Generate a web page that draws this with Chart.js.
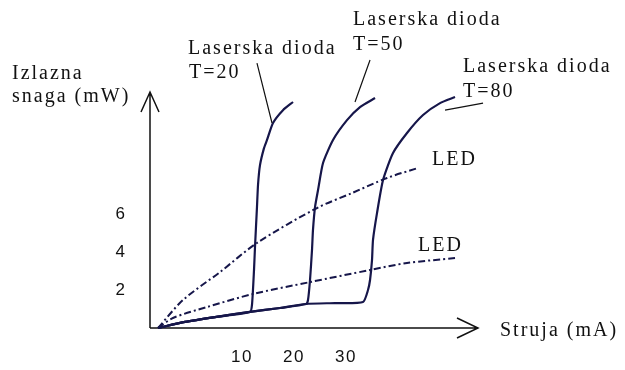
<!DOCTYPE html>
<html lang="hr">
<head>
    <meta charset="UTF-8">
    <title>Laserska dioda i LED</title>
    <script src="https://cdn.jsdelivr.net/npm/chart.js"></script>
    <style>
        body { margin: 0; background: #fff; }
        canvas { display: block; }
    </style>
</head>
<body>
<canvas id="myChart" width="625" height="370"></canvas>

<script>
    // struja (mA) i izlazna snaga (mW) za svaku krivulju
    const ld20Current = [-6.15, -0.96, 4.81, 11.54, 11.92, 12.31, 12.5, 12.88, 13.08, 13.46, 14.23, 14.81, 15.96, 17.88, 19.81];
    const ld20Power   = [0, 0.32, 0.58, 0.85, 1.22, 3.07, 4.29, 6.40, 7.57, 8.62, 9.52, 9.95, 10.85, 11.53, 11.96];

    const ld50Current = [-6.15, -0.96, 4.81, 11.54, 17.31, 22.31, 22.69, 23.08, 23.46, 23.65, 24.04, 24.62, 25.58, 27.5, 30.19, 32.69, 35.58];
    const ld50Power   = [0, 0.32, 0.58, 0.85, 1.06, 1.27, 1.48, 2.54, 4.13, 5.19, 6.40, 7.30, 8.73, 9.95, 11.0, 11.69, 12.17];

    const ld80Current = [-6.15, -0.96, 4.81, 11.54, 17.31, 22.31, 27.88, 33.27, 34.23, 34.62, 35.0, 35.19, 35.96, 37.12, 39.04, 41.73, 44.81, 48.08, 50.96];
    const ld80Power   = [0, 0.32, 0.58, 0.85, 1.06, 1.27, 1.32, 1.38, 2.01, 2.54, 3.60, 4.66, 6.08, 7.83, 9.26, 10.32, 11.27, 11.9, 12.22];

    const led1Current = [-6.15, -1.35, 5.77, 12.88, 24.42, 31.15, 37.88, 43.85];
    const led1Power   = [0, 1.48, 2.96, 4.50, 6.35, 7.14, 7.94, 8.47];

    const led2Current = [-6.15, -3.27, 3.27, 12.12, 23.08, 34.62, 41.73, 50.96];
    const led2Power   = [0, 0.53, 1.11, 1.80, 2.43, 3.07, 3.44, 3.70];

    const xTicks = [10, 20, 30];
    const yTicks = [2, 4, 6];

    const toPoints = (xs, ys) => xs.map((x, i) => ({x: x, y: ys[i]}));

    const ink = '#16164a';
    const serif = '20px "Liberation Serif", "Times New Roman", serif';
    const sans = '17px "Liberation Sans", Arial, sans-serif';

    // natpisi: [tekst, lijevi rub, sredina po visini]
    const labels = [
        ['Izlazna', 12, 74],
        ['snaga (mW)', 12, 97],
        ['Laserska dioda', 188, 49],
        ['T=20', 189, 73],
        ['Laserska dioda', 353, 20],
        ['T=50', 353, 45],
        ['Laserska dioda', 463, 67],
        ['T=80', 463, 92],
        ['LED', 432, 160],
        ['LED', 418, 246],
        ['Struja (mA)', 500, 331]
    ];

    // linije od natpisa do krivulja (u jedinicama osi)
    const leaders = [
        [12.88, 14.02, 15.77, 10.85],
        [34.62, 14.18, 31.73, 11.96],
        [56.35, 11.9, 49.04, 11.53]
    ];

    const sketchAxes = {
        id: 'sketchAxes',
        beforeDatasetsDraw(chart) {
            const {ctx, chartArea: a} = chart;
            ctx.save();
            ctx.strokeStyle = '#111';
            ctx.lineWidth = 1.5;
            ctx.beginPath();
            // os y sa strelicom
            ctx.moveTo(a.left, a.bottom);
            ctx.lineTo(a.left, a.top);
            ctx.moveTo(a.left - 9, a.top + 20);
            ctx.lineTo(a.left, a.top);
            ctx.lineTo(a.left + 9, a.top + 20);
            // os x sa strelicom
            ctx.moveTo(a.left, a.bottom);
            ctx.lineTo(a.right, a.bottom);
            ctx.moveTo(a.right - 21, a.bottom - 10);
            ctx.lineTo(a.right, a.bottom);
            ctx.lineTo(a.right - 21, a.bottom + 10);
            ctx.stroke();
            ctx.restore();
        },
        afterDraw(chart) {
            const {ctx, chartArea: a} = chart;
            const xs = chart.scales.x, ys = chart.scales.y;
            ctx.save();
            ctx.fillStyle = '#111';
            ctx.textBaseline = 'middle';

            ctx.font = sans;
            ctx.letterSpacing = '1.5px';
            ctx.textAlign = 'center';
            xTicks.forEach(v => ctx.fillText(String(v), xs.getPixelForValue(v), a.bottom + 29));
            yTicks.forEach(v => ctx.fillText(String(v), a.left - 29, ys.getPixelForValue(v)));

            ctx.font = serif;
            ctx.letterSpacing = '2px';
            ctx.textAlign = 'left';
            labels.forEach(([t, x, y]) => ctx.fillText(t, x, y));

            ctx.strokeStyle = '#111';
            ctx.lineWidth = 1.2;
            ctx.beginPath();
            leaders.forEach(([x1, y1, x2, y2]) => {
                ctx.moveTo(xs.getPixelForValue(x1), ys.getPixelForValue(y1));
                ctx.lineTo(xs.getPixelForValue(x2), ys.getPixelForValue(y2));
            });
            ctx.stroke();
            ctx.restore();
        }
    };

    const laser = (xs, ys) => ({
        data: toPoints(xs, ys),
        borderColor: ink,
        borderWidth: 2.2,
        tension: 0.2
    });
    const led = (xs, ys) => ({
        data: toPoints(xs, ys),
        borderColor: ink,
        borderWidth: 2,
        borderDash: [7, 3, 2, 3],
        tension: 0.3
    });

    new Chart(document.getElementById('myChart'), {
        type: 'scatter',
        data: {
            datasets: [
                led(led1Current, led1Power),
                led(led2Current, led2Power),
                laser(ld20Current, ld20Power),
                laser(ld50Current, ld50Power),
                laser(ld80Current, ld80Power)
            ]
        },
        options: {
            responsive: false,
            animation: false,
            showLine: true,
            layout: {padding: {left: 150, right: 147, top: 92, bottom: 42}},
            elements: {point: {radius: 0, hoverRadius: 0}, line: {fill: false}},
            datasets: {scatter: {clip: false}},
            plugins: {legend: {display: false}, tooltip: {enabled: false}},
            scales: {
                x: {type: 'linear', min: -7.69, max: 55.38, display: false},
                y: {type: 'linear', min: 0, max: 12.49, display: false}
            }
        },
        plugins: [sketchAxes]
    });
</script>
</body>
</html>
